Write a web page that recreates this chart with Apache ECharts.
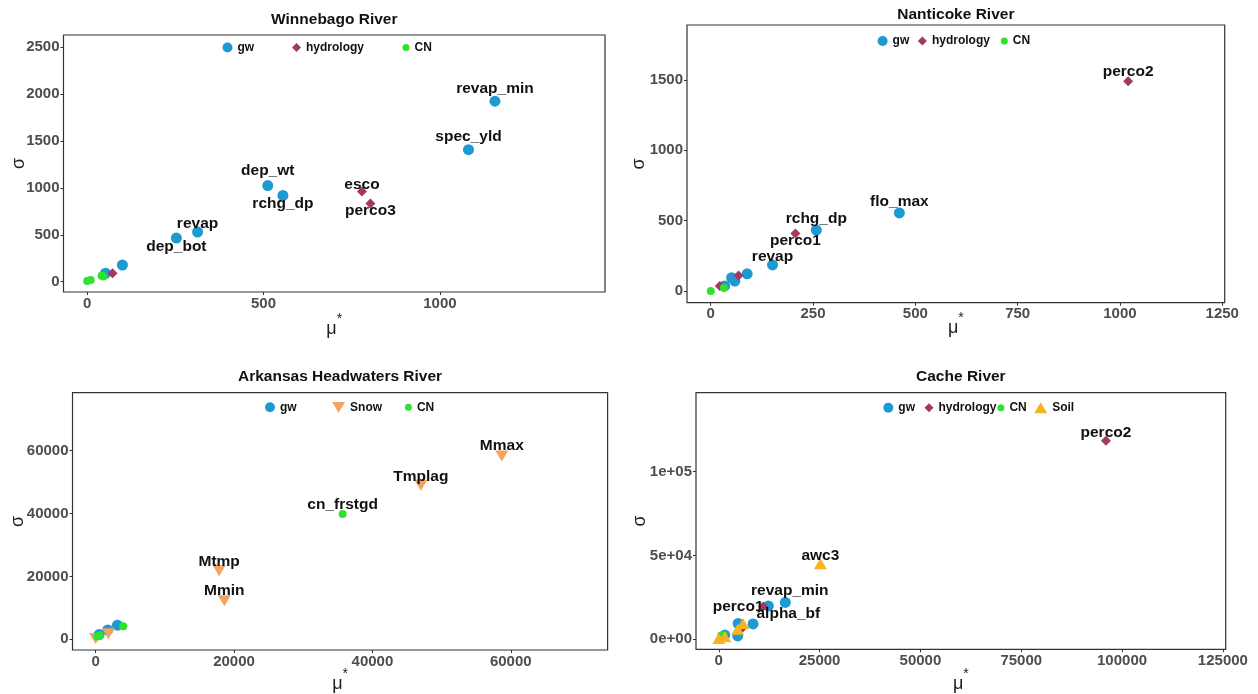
<!DOCTYPE html>
<html>
<head>
<meta charset="utf-8">
<title>Morris sensitivity (μ*, σ) by river basin</title>
<script src="https://cdn.jsdelivr.net/npm/echarts@6/dist/echarts.min.js"></script>
<style>
  html, body { margin: 0; padding: 0; background: #ffffff; }
  #chart { width: 1258px; height: 694px; }
</style>
</head>
<body>
<div id="chart"></div>
<script>
// ---- Data: [mu*, sigma, parameter label] ----
// Winnebago River
const winGw = [[52, 90, ''], [100, 178, ''], [253, 465, 'dep_bot'], [313, 530, 'revap'], [512, 1025, 'dep_wt'], [555, 920, 'rchg_dp'], [1081, 1408, 'spec_yld'], [1156, 1925, 'revap_min']];
const winHydrology = [[72, 90, ''], [779, 962, 'esco'], [803, 835, 'perco3']];
const winCN = [[0, 7, ''], [10, 18, ''], [46, 55, ''], [41, 64, '']];

// Nanticoke River
const nanGw = [[34, 36, ''], [51, 95, ''], [59, 71, ''], [89, 122, ''], [151, 185, 'revap'], [258, 433, 'rchg_dp'], [461, 555, 'flo_max']];
const nanHydrology = [[22, 36, ''], [68, 110, ''], [207, 408, 'perco1'], [1020, 1490, 'perco2']];
const nanCN = [[0, 0, ''], [32, 22, '']];

// Arkansas Headwaters River
const arkGw = [[500, 1500, ''], [1750, 3000, ''], [3150, 4500, '']];
const arkSnow = [[0, 300, ''], [1850, 1800, ''], [17850, 21800, 'Mtmp'], [18600, 12300, 'Mmin'], [47000, 49000, 'Tmplag'], [58700, 58300, 'Mmax']];
const arkCN = [[250, 900, ''], [600, 1300, ''], [4000, 4200, ''], [35700, 39900, 'cn_frstgd']];

// Cache River
const cacGw = [[1500, 2500, ''], [4700, 2000, ''], [4800, 9500, ''], [8500, 9200, ''], [12300, 19900, 'alpha_bf'], [16500, 22000, 'revap_min']];
const cacHydrology = [[600, 1000, ''], [5700, 6500, ''], [11000, 19500, 'perco1'], [96000, 118500, 'perco2']];
const cacCN = [[600, 2200, ''], [1200, 2400, '']];
const cacSoil = [[0, 500, ''], [1500, 1500, ''], [4700, 6000, ''], [6000, 9500, ''], [25200, 45000, 'awc3']];

// Axis tick values and labels
const winXTicks = [0, 500, 1000];
const winYTicks = [0, 500, 1000, 1500, 2000, 2500];
const nanXTicks = [0, 250, 500, 750, 1000, 1250];
const nanYTicks = [0, 500, 1000, 1500];
const arkXTicks = [0, 20000, 40000, 60000];
const arkYTicks = [0, 20000, 40000, 60000];
const cacXTicks = [0, 25000, 50000, 75000, 100000, 125000];
const cacYTicks = [0, 50000, 100000];
const cacYTickLabels = ['0e+00', '5e+04', '1e+05'];

const titles = ['Winnebago River', 'Nanticoke River', 'Arkansas Headwaters River', 'Cache River'];

// ---- Styling ----
const FONT = '"Liberation Sans", Arial, Helvetica, sans-serif';
const COLORS = { gw: '#1E9AD3', hydrology: '#A53860', CN: '#2EE22E', Snow: '#F2A35F', Soil: '#F7B21F' };
const SYMBOLS = {
  gw: { symbol: 'circle', size: 11, rotate: 0 },
  hydrology: { symbol: 'diamond', size: 10, rotate: 0 },
  CN: { symbol: 'circle', size: 8, rotate: 0 },
  Snow: { symbol: 'triangle', size: [13, 11], rotate: 180 },
  Soil: { symbol: 'triangle', size: [13, 11], rotate: 0 }
};
const LEGEND_ICONS = {
  gw: { icon: 'circle', w: 10, h: 10 },
  hydrology: { icon: 'diamond', w: 9, h: 9 },
  CN: { icon: 'circle', w: 7, h: 7 },
  Snow: { icon: 'path://M0,0L12,0L6,10Z', w: 13, h: 11 },
  Soil: { icon: 'triangle', w: 13, h: 11 }
};

// Label offsets (px) relative to the point, per panel
const labelOffsets = [
  { revap_min: [0, -12], spec_yld: [0, -13], dep_wt: [0, -15], rchg_dp: [0, 8], esco: [0, -7], perco3: [0, 7.5], revap: [0, -8.5], dep_bot: [0, 9] },
  { perco2: [0, -9.5], flo_max: [0, -11.5], rchg_dp: [0, -11.5], perco1: [0, 7.5], revap: [0, -8.5] },
  { Mmax: [0, -10.5], Tmplag: [0, -9], cn_frstgd: [0, -9], Mtmp: [0, -9], Mmin: [0, -10] },
  { perco2: [0, -7.5], awc3: [0, -8.5], revap_min: [4.5, -12], alpha_bf: [20, 7.5], perco1: [-25, 0] }
];

// Panel layout: grid rectangle, axis ranges, name gaps, title position, legend entries
const panels = [
  { grid: [63.5, 35, 541.5, 257], x: [-67, 1468], y: [-110, 2631], xt: winXTicks, yt: winYTicks, xGap: 20, yGap: 35, titleY: 12,
    series: [['gw', winGw], ['hydrology', winHydrology], ['CN', winCN]],
    legend: [['gw', 227.5, 47.5], ['hydrology', 296.5, 47.5], ['CN', 406, 47.5]] },
  { grid: [687, 25, 537.7, 277.7], x: [-58, 1256], y: [-83, 1890], xt: nanXTicks, yt: nanYTicks, xGap: 8.6, yGap: 38.5, titleY: 7,
    series: [['gw', nanGw], ['hydrology', nanHydrology], ['CN', nanCN]],
    legend: [['gw', 882.6, 41], ['hydrology', 922.4, 41], ['CN', 1004.3, 41]] },
  { grid: [72.5, 392.7, 535.1, 257.3], x: [-3340, 73990], y: [-3392, 78450], xt: arkXTicks, yt: arkYTicks, xGap: 17, yGap: 45.5, titleY: 369,
    series: [['gw', arkGw], ['Snow', arkSnow], ['CN', arkCN]],
    legend: [['gw', 270, 407.3], ['Snow', 338.6, 407.3], ['CN', 408.4, 407.3]] },
  { grid: [696, 392.7, 529.7, 256.6], x: [-5645, 125700], y: [-5964, 147100], xt: cacXTicks, yt: cacYTicks, ytLabels: cacYTickLabels, xGap: 18, yGap: 46.5, titleY: 369,
    series: [['gw', cacGw], ['hydrology', cacHydrology], ['CN', cacCN], ['Soil', cacSoil]],
    legend: [['gw', 888.3, 407.7], ['hydrology', 929, 407.7], ['CN', 1000.9, 407.7], ['Soil', 1040.7, 407.7]] }
];

// Measure a title so it can be centred above its plot
const measureCtx = document.createElement('canvas').getContext('2d');
function textWidth(text, font) { measureCtx.font = font; return measureCtx.measureText(text).width; }

const option = {
  animation: false,
  backgroundColor: '#ffffff',
  title: [], grid: [], xAxis: [], yAxis: [], legend: [], series: []
};

const tickLabelStyle = { fontSize: 15, fontWeight: 'bold', color: '#4D4D4D', fontFamily: FONT };

panels.forEach((p, i) => {
  const [gl, gt, gw, gh] = p.grid;
  option.grid.push({ left: gl, top: gt, width: gw, height: gh, show: true, borderColor: '#333333', borderWidth: 1.2,
    backgroundColor: 'transparent', containLabel: false, outerBoundsMode: 'none' });

  const titleFont = 'bold 15.5px ' + FONT;
  option.title.push({
    text: titles[i], left: gl + gw / 2 - textWidth(titles[i], titleFont) / 2, top: p.titleY, padding: 0,
    textStyle: { fontSize: 15.5, fontWeight: 'bold', color: '#111111', fontFamily: FONT }
  });

  option.xAxis.push({
    type: 'value', gridIndex: i, min: p.x[0], max: p.x[1], position: 'bottom',
    splitLine: { show: false }, axisLine: { show: false, onZero: false },
    axisTick: { show: true, length: 3, customValues: p.xt, lineStyle: { color: '#333333', width: 1 } },
    axisLabel: Object.assign({ customValues: p.xt, margin: 4, formatter: (v) => String(v) }, tickLabelStyle),
    name: '{m|μ}{s|*}', nameLocation: 'middle', nameGap: p.xGap, nameMoveOverlap: false,
    nameTextStyle: {
      rich: {
        m: { fontSize: 18, lineHeight: 34, color: '#222222', fontFamily: FONT },
        s: { fontSize: 14, verticalAlign: 'top', color: '#222222', fontFamily: FONT }
      }
    }
  });

  option.yAxis.push({
    type: 'value', gridIndex: i, min: p.y[0], max: p.y[1], position: 'left',
    splitLine: { show: false }, axisLine: { show: false, onZero: false },
    axisTick: { show: true, length: 3, customValues: p.yt, lineStyle: { color: '#333333', width: 1 } },
    axisLabel: Object.assign({
      customValues: p.yt, margin: 4,
      formatter: p.ytLabels ? (v) => p.ytLabels[p.yt.indexOf(v)] : (v) => String(v)
    }, tickLabelStyle),
    name: 'σ', nameLocation: 'middle', nameRotate: 90, nameGap: p.yGap, nameMoveOverlap: false,
    nameTextStyle: { fontSize: 18, color: '#222222', fontFamily: FONT }
  });

  p.series.forEach(([group, pts]) => {
    const sym = SYMBOLS[group];
    option.series.push({
      type: 'scatter', name: group, xAxisIndex: i, yAxisIndex: i,
      symbol: sym.symbol, symbolSize: sym.size, symbolRotate: sym.rotate,
      itemStyle: { color: COLORS[group], opacity: 1 },
      emphasis: { disabled: true },
      label: { position: 'inside', formatter: '{b}', fontSize: 15.5, fontWeight: 'bold', color: '#111111', fontFamily: FONT },
      data: pts.map(([mx, sd, lab]) => ({
        value: [mx, sd], name: lab,
        label: lab ? { show: true, offset: labelOffsets[i][lab] || [0, 0] } : { show: false }
      }))
    });
  });

  p.legend.forEach(([group, cx, cy]) => {
    const ic = LEGEND_ICONS[group];
    option.legend.push({
      data: [{ name: group, icon: ic.icon }],
      left: cx - ic.w / 2, top: cy - Math.max(ic.h, 12) / 2,
      itemWidth: ic.w, itemHeight: ic.h, padding: 0, itemGap: 0, selectedMode: false,
      textStyle: { fontSize: 12, fontWeight: 'bold', color: '#111111', fontFamily: FONT }
    });
  });
});

const chart = echarts.init(document.getElementById('chart'), null, { renderer: 'canvas' });
chart.setOption(option);
</script>
</body>
</html>
